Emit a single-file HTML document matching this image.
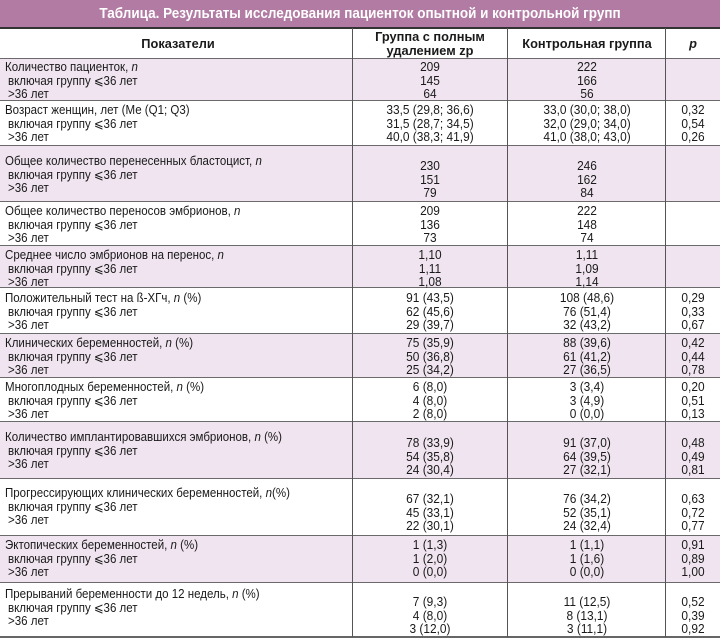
<!DOCTYPE html>
<html><head><meta charset="utf-8"><style>
*{margin:0;padding:0;box-sizing:border-box}
body{width:720px;height:641px;background:#fff;position:relative;overflow:hidden;font-family:"Liberation Sans",sans-serif;color:#1a1a1a}
.a{position:absolute;white-space:nowrap;font-size:12.8px;line-height:14px}
.l{transform-origin:0 50%;transform:scaleX(0.9)}
.c{transform:translateX(-50%) scaleX(0.93);text-align:center}
.bg{position:absolute;left:0;width:720px}
.h{position:absolute;left:0;width:720px;height:1px;background:#6a6a6a}
.v{position:absolute;top:28px;width:1px;height:609px;background:#555}
i{font-style:italic}
</style></head><body>
<div class="bg" style="top:0;height:28px;background:#b27ba3"></div>
<div class="a" style="left:360px;top:6px;transform:translateX(-50%) scaleX(0.93);color:#fff;font-weight:bold;font-size:14.5px;line-height:16px">Таблица. Результаты исследования пациенток опытной и контрольной групп</div>
<div class="bg" style="top:27px;height:2px;background:#333"></div>

<div class="bg" style="top:58px;height:42px;background:#efe4ef"></div>
<div class="bg" style="top:145px;height:56px;background:#efe4ef"></div>
<div class="bg" style="top:245px;height:42px;background:#efe4ef"></div>
<div class="bg" style="top:333px;height:44px;background:#efe4ef"></div>
<div class="bg" style="top:421px;height:57px;background:#efe4ef"></div>
<div class="bg" style="top:535px;height:47px;background:#efe4ef"></div>

<div class="h" style="top:58px"></div><div class="h" style="top:100px"></div><div class="h" style="top:145px"></div>
<div class="h" style="top:201px"></div><div class="h" style="top:245px"></div><div class="h" style="top:287px"></div>
<div class="h" style="top:333px"></div><div class="h" style="top:377px"></div><div class="h" style="top:421px"></div>
<div class="h" style="top:478px"></div><div class="h" style="top:535px"></div><div class="h" style="top:582px"></div>
<div class="bg" style="top:636px;height:2px;background:#666"></div>

<div class="v" style="left:352px"></div><div class="v" style="left:507px"></div><div class="v" style="left:665px"></div>

<div class="a" style="left:178px;top:37px;transform:translateX(-50%);font-weight:bold">Показатели</div>
<div class="a" style="left:430px;top:30px;transform:translateX(-50%);font-weight:bold;text-align:center">Группа с полным<br>удалением zp</div>
<div class="a" style="left:587px;top:37px;transform:translateX(-50%);font-weight:bold">Контрольная группа</div>
<div class="a" style="left:693px;top:37px;transform:translateX(-50%);font-weight:bold;font-style:italic">p</div>

<div id="t"></div>
<script>
var rows=[
[60,60,"Количество пациенток, <i>n</i>",["209","145","64"],["222","166","56"],["","",""]],
[103,103,"Возраст женщин, лет (Ме (Q1; Q3)",["33,5 (29,8; 36,6)","31,5 (28,7; 34,5)","40,0 (38,3; 41,9)"],["33,0 (30,0; 38,0)","32,0 (29,0; 34,0)","41,0 (38,0; 43,0)"],["0,32","0,54","0,26"]],
[154,159,"Общее количество перенесенных бластоцист, <i>n</i>",["230","151","79"],["246","162","84"],["","",""]],
[204,204,"Общее количество переносов эмбрионов, <i>n</i>",["209","136","73"],["222","148","74"],["","",""]],
[248,248,"Среднее число эмбрионов на перенос, <i>n</i>",["1,10","1,11","1,08"],["1,11","1,09","1,14"],["","",""]],
[291,291,"Положительный тест на ß-ХГч, <i>n</i> (%)",["91 (43,5)","62 (45,6)","29 (39,7)"],["108 (48,6)","76 (51,4)","32 (43,2)"],["0,29","0,33","0,67"]],
[336,336,"Клинических беременностей, <i>n</i> (%)",["75 (35,9)","50 (36,8)","25 (34,2)"],["88 (39,6)","61 (41,2)","27 (36,5)"],["0,42","0,44","0,78"]],
[380,380,"Многоплодных беременностей, <i>n</i> (%)",["6 (8,0)","4 (8,0)","2 (8,0)"],["3 (3,4)","3 (4,9)","0 (0,0)"],["0,20","0,51","0,13"]],
[430,436,"Количество имплантировавшихся эмбрионов, <i>n</i> (%)",["78 (33,9)","54 (35,8)","24 (30,4)"],["91 (37,0)","64 (39,5)","27 (32,1)"],["0,48","0,49","0,81"]],
[486,492,"Прогрессирующих клинических беременностей, <i>n</i>(%)",["67 (32,1)","45 (33,1)","22 (30,1)"],["76 (34,2)","52 (35,1)","24 (32,4)"],["0,63","0,72","0,77"]],
[538,538,"Эктопических беременностей, <i>n</i> (%)",["1 (1,3)","1 (2,0)","0 (0,0)"],["1 (1,1)","1 (1,6)","0 (0,0)"],["0,91","0,89","1,00"]],
[587,595,"Прерываний беременности до 12 недель, <i>n</i> (%)",["7 (9,3)","4 (8,0)","3 (12,0)"],["11 (12,5)","8 (13,1)","3 (11,1)"],["0,52","0,39","0,92"]]
];
var h="";
rows.forEach(function(r){
 var L=[r[2],"включая группу ⩽36 лет",">36 лет"];
 for(var k=0;k<3;k++){
  var y=r[0]+k*13.5, y2=r[1]+k*13.5;
  h+='<div class="a l" style="left:'+(k?8:5)+'px;top:'+y+'px">'+L[k]+'</div>';
  h+='<div class="a c" style="left:430px;top:'+y2+'px">'+r[3][k]+'</div>';
  h+='<div class="a c" style="left:587px;top:'+y2+'px">'+r[4][k]+'</div>';
  h+='<div class="a c" style="left:693px;top:'+y2+'px">'+r[5][k]+'</div>';
 }
});
document.getElementById("t").innerHTML=h;
</script>
</body></html>
